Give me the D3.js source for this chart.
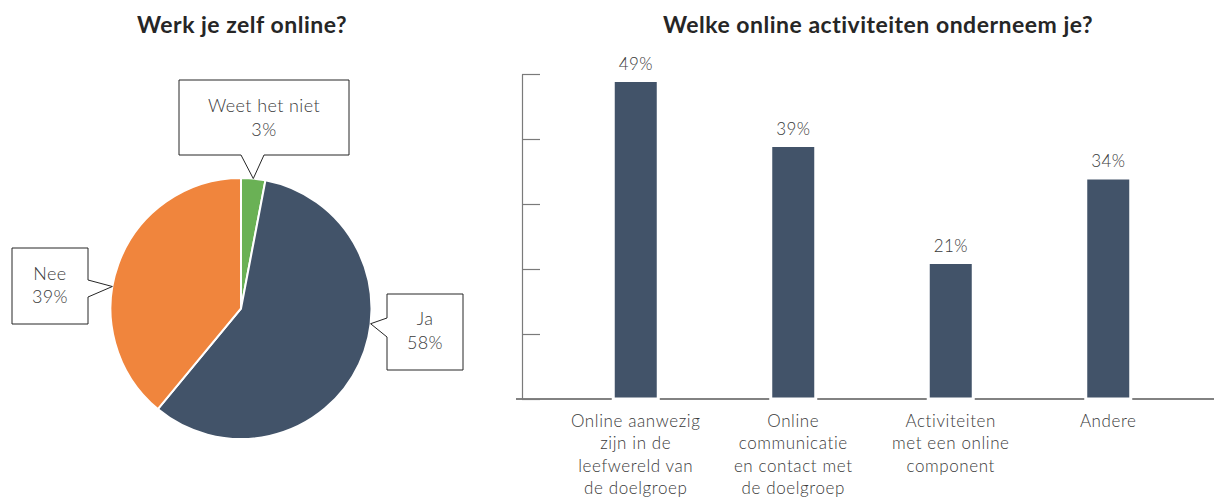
<!DOCTYPE html>
<html>
<head>
<meta charset="utf-8">
<script src="https://cdn.jsdelivr.net/npm/d3@7"></script>
<style>
  body { margin: 0; background: #fff; }
  svg { display: block; }
  text { font-family: Lato, "Open Sans", sans-serif; }
  .title { font-weight: 700; font-size: 23px; fill: #262626; letter-spacing: 0.5px; }
  .lbl { font-weight: 300; fill: #3a3a3a; letter-spacing: 0.4px; }
</style>
</head>
<body>
<div id="chart"></div>
<script>
// pie data
var pieLabels = ["Weet het niet", "Ja", "Nee"];
var pieValues = [3, 58, 39];
var pieColors = ["#6ab155", "#425369", "#f0853d"];

// bar data
var barCategories = [
  ["Online aanwezig", "zijn in de", "leefwereld van", "de doelgroep"],
  ["Online", "communicatie", "en contact met", "de doelgroep"],
  ["Activiteiten", "met een online", "component"],
  ["Andere"]
];
var barValues = [49, 39, 21, 34];

var W = 1214, H = 497;

var svg = d3.select("#chart").append("svg")
    .attr("width", W)
    .attr("height", H);

// ---------- left: pie ----------
svg.append("text")
    .attr("class", "title")
    .attr("x", 242).attr("y", 33)
    .attr("text-anchor", "middle")
    .text("Werk je zelf online?");

var cx = 241, cy = 308.5, r = 130.5;

var pie = d3.pie().sort(null).value(function(d) { return d; });
var arc = d3.arc().innerRadius(0).outerRadius(r);
var arcs = pie(pieValues);

var pieG = svg.append("g")
    .attr("transform", "translate(" + cx + "," + cy + ")");

pieG.selectAll("path")
    .data(arcs)
  .enter().append("path")
    .attr("d", arc)
    .attr("fill", function(d, i) { return pieColors[i]; })
    .attr("stroke", "#fff")
    .attr("stroke-width", 2);

// callout boxes, positioned relative to pie centre
// side = edge the pointer leaves from; tipAngle in degrees clockwise from top
var callouts = [
  {box: [-62, -228.5, 170, 75], side: "bottom", at: [62, 85], tipAngle: null, dy: [-6, 18]},
  {box: [146, -14.5, 76, 76], side: "left", at: [24, 43], tipAngle: 96.7, dy: [-7, 17]},
  {box: [-229, -60.5, 76, 76], side: "right", at: [32, 49], tipAngle: 279.7, dy: [-6, 17]}
];

callouts.forEach(function(c, i) {
  var a = arcs[i];
  var ang = c.tipAngle == null ? (a.startAngle + a.endAngle) / 2 : c.tipAngle * Math.PI / 180;
  var tx = Math.sin(ang) * r, ty = -Math.cos(ang) * r;
  var x0 = c.box[0], y0 = c.box[1], x1 = x0 + c.box[2], y1 = y0 + c.box[3];
  var p = d3.path();
  if (c.side === "bottom") {
    p.moveTo(x0, y0); p.lineTo(x1, y0); p.lineTo(x1, y1);
    p.lineTo(x0 + c.at[1], y1); p.lineTo(tx, ty); p.lineTo(x0 + c.at[0], y1);
    p.lineTo(x0, y1); p.closePath();
  } else if (c.side === "left") {
    p.moveTo(x0, y0); p.lineTo(x1, y0); p.lineTo(x1, y1); p.lineTo(x0, y1);
    p.lineTo(x0, y0 + c.at[1]); p.lineTo(tx, ty); p.lineTo(x0, y0 + c.at[0]);
    p.closePath();
  } else {
    p.moveTo(x0, y0); p.lineTo(x1, y0); p.lineTo(x1, y0 + c.at[0]);
    p.lineTo(tx, ty); p.lineTo(x1, y0 + c.at[1]); p.lineTo(x1, y1);
    p.lineTo(x0, y1); p.closePath();
  }
  pieG.append("path")
      .attr("d", p.toString())
      .attr("fill", "#fff")
      .attr("stroke", "#262626")
      .attr("stroke-width", 1);

  var t = pieG.append("text")
      .attr("class", "lbl")
      .attr("text-anchor", "middle")
      .style("font-size", "18px");
  var mx = (x0 + x1) / 2, my = (y0 + y1) / 2;
  t.append("tspan").attr("x", mx).attr("y", my + c.dy[0]).text(pieLabels[i]);
  t.append("tspan").attr("x", mx).attr("y", my + c.dy[1]).text(pieValues[i] + "%");
});

// ---------- right: bars ----------
svg.append("text")
    .attr("class", "title")
    .attr("x", 878).attr("y", 33)
    .attr("text-anchor", "middle")
    .text("Welke online activiteiten onderneem je?");

var axisX = 522;
var y = d3.scaleLinear().domain([0, 50]).range([399, 74]);
var x = d3.scaleBand()
    .domain(d3.range(barValues.length))
    .range([557, 1187])
    .padding(0);
var barW = 45;

// baseline
svg.append("line")
    .attr("x1", 516).attr("x2", W)
    .attr("y1", y(0)).attr("y2", y(0))
    .attr("stroke", "#595959")
    .attr("stroke-width", 1.5);

// y axis, ticks pointing inward, no labels
var yAxis = d3.axisRight(y)
    .ticks(5)
    .tickSize(18)
    .tickSizeOuter(0)
    .tickFormat("");

var ax = svg.append("g")
    .attr("transform", "translate(" + axisX + ",0)")
    .call(yAxis);
ax.selectAll("path, line").attr("stroke", "#7a7a7a").attr("stroke-width", 1.2);

svg.selectAll(".bar")
    .data(barValues)
  .enter().append("rect")
    .attr("class", "bar")
    .attr("x", function(d, i) { return x(i) + x.bandwidth() / 2 - barW / 2; })
    .attr("y", function(d) { return y(d); })
    .attr("width", barW)
    .attr("height", function(d) { return y(0) - y(d); })
    .attr("fill", "#425369")
    .attr("stroke", "#fff")
    .attr("stroke-width", 3);

svg.selectAll(".val")
    .data(barValues)
  .enter().append("text")
    .attr("class", "lbl")
    .attr("text-anchor", "middle")
    .style("font-size", "17px")
    .attr("x", function(d, i) { return x(i) + x.bandwidth() / 2; })
    .attr("y", function(d) { return y(d) - 11; })
    .text(function(d) { return d + "%"; });

var cats = svg.selectAll(".cat")
    .data(barCategories)
  .enter().append("text")
    .attr("class", "lbl")
    .attr("text-anchor", "middle")
    .style("font-size", "17px")
    .style("letter-spacing", "0.6px");

cats.each(function(lines, i) {
  var t = d3.select(this);
  lines.forEach(function(s, j) {
    t.append("tspan")
        .attr("x", x(i) + x.bandwidth() / 2)
        .attr("y", 427 + j * 22.3)
        .text(s);
  });
});
</script>
</body>
</html>
